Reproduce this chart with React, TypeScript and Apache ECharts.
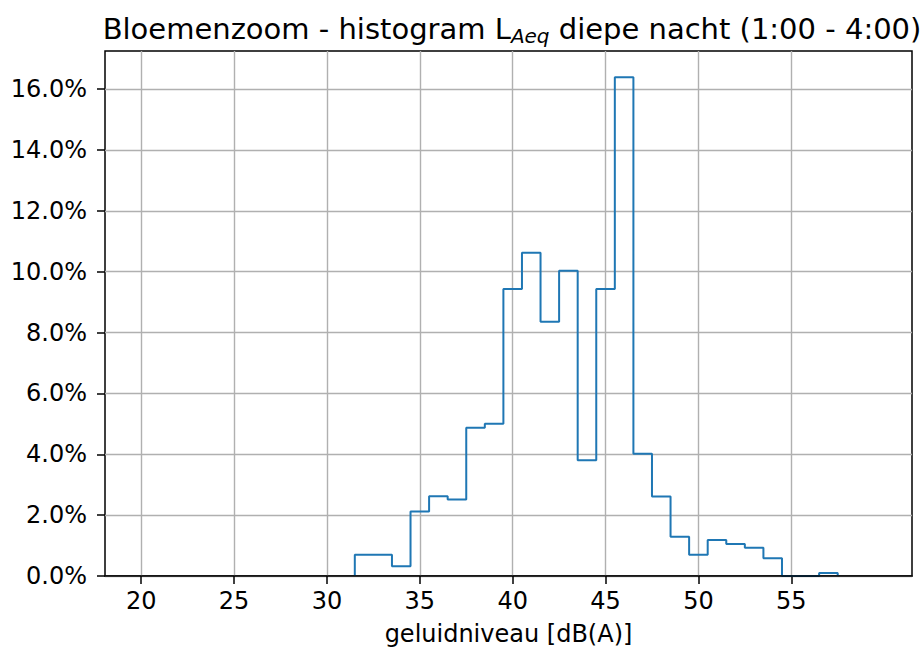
import React, { useEffect, useRef } from 'react';
import * as echarts from 'echarts';

// Bin centers in dB(A) (bins are 1 dB wide)
const binCenters = [32, 33, 34, 35, 36, 37, 38, 39, 40, 41, 42, 43, 44, 45, 46, 47, 48, 49, 50, 51, 52, 53, 54, 55, 56, 57];
// Share of samples per bin, in percent
const percentages = [0.70, 0.70, 0.32, 2.12, 2.62, 2.51, 4.87, 5.00, 9.43, 10.62, 8.35, 10.03, 3.80, 9.43, 16.39, 4.02, 2.61, 1.29, 0.70, 1.18, 1.05, 0.93, 0.58, 0, 0, 0.10];
const xTicks = [20, 25, 30, 35, 40, 45, 50, 55];
const yTicks = [0, 2, 4, 6, 8, 10, 12, 14, 16];

const X_MIN = 18.05;
const X_MAX = 61.5;
const Y_MAX = 17.25;
const FONT = 'DejaVu Sans';

export default function App() {
  const ref = useRef<HTMLDivElement>(null);
  useEffect(() => {
    if (!ref.current) return;
    const chart = echarts.init(ref.current, null, { renderer: 'svg' });
    const half = 0.5;
    const stepData: number[][] = [[binCenters[0] - half, 0]];
    binCenters.forEach((c, i) => stepData.push([c - half, percentages[i]]));
    stepData.push([binCenters[binCenters.length - 1] + half, 0]);

    chart.setOption({
      animation: false,
      backgroundColor: '#ffffff',
      textStyle: { fontFamily: FONT },
      title: {
        text: 'Bloemenzoom - histogram L{sub|Aeq} diepe nacht (1:00 - 4:00)',
        left: 507,
        textAlign: 'center',
        top: 7,
        textStyle: {
          fontFamily: FONT,
          fontSize: 29,
          fontWeight: 'normal',
          color: '#000',
          lineHeight: 34,
          rich: {
            sub: {
              fontFamily: FONT,
              fontSize: 20,
              fontStyle: 'italic',
              color: '#000',
              verticalAlign: 'bottom',
              lineHeight: 34,
            },
          },
        },
      },
      grid: {
        left: 105,
        right: 10,
        top: 51,
        bottom: 75,
        show: true,
        borderColor: '#000',
        borderWidth: 1.5,
        backgroundColor: 'transparent',
      },
      xAxis: [
        {
          type: 'value',
          min: X_MIN,
          max: X_MAX,
          name: 'geluidniveau [dB(A)]',
          nameLocation: 'middle',
          nameGap: 46,
          nameTextStyle: { fontFamily: FONT, fontSize: 24, color: '#000' },
          axisLine: { show: false },
          axisTick: {
            show: true,
            customValues: xTicks,
            length: 8,
            lineStyle: { color: '#000', width: 1.5 },
          },
          axisLabel: {
            customValues: xTicks,
            margin: 13,
            fontFamily: FONT,
            fontSize: 24,
            color: '#000',
          },
          splitLine: { show: true, lineStyle: { color: '#b0b0b0', width: 1.4 } },
        },
        {
          type: 'value',
          min: X_MIN,
          max: X_MAX,
          position: 'bottom',
          z: 10,
          axisLine: { show: true, onZero: false, lineStyle: { color: '#000', width: 1.5 } },
          axisTick: { show: false },
          axisLabel: { show: false },
          splitLine: { show: false },
        },
      ],
      yAxis: {
        type: 'value',
        min: 0,
        max: Y_MAX,
        axisLine: { show: false },
        axisTick: {
          show: true,
          customValues: yTicks,
          length: 8,
          lineStyle: { color: '#000', width: 1.5 },
        },
        axisLabel: {
          customValues: yTicks,
          margin: 18,
          fontFamily: FONT,
          fontSize: 24,
          color: '#000',
          formatter: (v: number) => v.toFixed(1) + '%',
        },
        splitLine: { show: true, lineStyle: { color: '#b0b0b0', width: 1.4 } },
      },
      series: [
        {
          type: 'line',
          xAxisIndex: 0,
          step: 'end',
          symbol: 'none',
          clip: false,
          data: stepData,
          lineStyle: { color: '#1f77b4', width: 2 },
        },
      ],
    });
    return () => chart.dispose();
  }, []);
  return (
    <div
      ref={ref}
      style={{ position: 'fixed', left: 0, top: 0, width: 922, height: 651 }}
    />
  );
}
